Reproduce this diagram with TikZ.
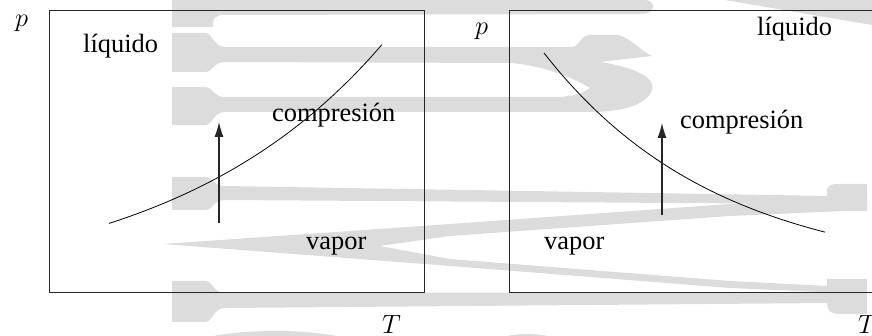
\RequirePackage{fix-cm}
\documentclass[tikz,border=0pt]{standalone}
\usepackage{fontspec}
\setmainfont{Liberation Serif}
\usetikzlibrary{arrows.meta}
\definecolor{wm}{RGB}{220,220,220}
\begin{document}
\begin{tikzpicture}[x=1pt,y=-1pt,
  lbl/.style={anchor=base west, inner sep=0pt, font=\fontsize{26.4}{30}\selectfont},
  frame/.style={draw=black!85, line width=0.9pt},
  curve/.style={draw=black, line width=0.8pt},
  updown/.style={draw=black!85, line width=1.1pt, -{Latex[length=15pt,width=9pt]}},
  wmfill/.style={fill=wm, draw=none}]
\useasboundingbox (0,0) rectangle (872,336);
\clip (0,0) rectangle (872,336);
% ---- watermark ----
\fill[wmfill] (172,0) -- (645,0) .. controls (656,0) and (656,14) .. (642,14) -- (225,15) .. controls (214,15) and (213,18) .. (213,27) -- (172,27) -- cycle;
\fill[wmfill] (172,33) -- (205,33) .. controls (213,33) and (213,47) .. (225,47) -- (572,47) .. controls (580,46) and (580,35) .. (590,35) -- (618,35) .. controls (630,38) and (640,50) .. (652,56) -- (600,62) .. controls (640,68) and (656,80) .. (652,90) .. controls (648,102) and (630,111) .. (595,112) -- (225,112) .. controls (213,112) and (213,125) .. (205,125) -- (172,125) -- (172,87) -- (205,87) .. controls (213,87) and (213,97) .. (225,97) -- (560,97) .. controls (575,96) and (585,92) .. (590,88) .. controls (570,76) and (540,65) .. (510,63) -- (225,62) .. controls (213,62) and (213,72) .. (205,72) -- (172,72) -- cycle;
\fill[wmfill] (172,177) -- (205,177) .. controls (213,177) and (213,186) .. (225,186) -- (830,196) -- (830,204) -- (225,200) .. controls (213,200) and (213,210) .. (205,210) -- (172,210) -- cycle;
\fill[wmfill] (827,211) -- (827,192) .. controls (827,185) and (830,184) .. (840,184) -- (867,184) -- (867,211) -- cycle;
\fill[wmfill] (163,244) -- (450,224) -- (730,204) -- (867,198) -- (867,210) -- (730,216) -- (450,236) -- (380,246) -- (450,259) -- (730,281) -- (867,288) -- (867,294) -- (730,288) -- (450,266) -- cycle;
\fill[wmfill] (172,281) -- (205,281) .. controls (213,281) and (213,293) .. (225,293) -- (830,292) -- (830,303) -- (225,308) .. controls (213,308) and (213,322) .. (205,322) -- (172,322) -- cycle;
\fill[wmfill] (827,279) -- (867,279) -- (867,314) -- (840,314) .. controls (830,314) and (827,310) .. (827,303) -- cycle;
\fill[wmfill] (725,0) -- (872,0) -- (872,25) -- cycle;
\fill[wmfill] (275,345) ellipse [x radius=80, y radius=14];
\fill[wmfill] (527,345) ellipse [x radius=35, y radius=11];
% ---- left diagram ----
\draw[frame] (49,10) rectangle (424,292);
\draw[curve] plot[domain=109:382, samples=80, smooth] (\x, {292-68.6*exp(0.0047*(\x-109))});
\coordinate (a1s) at (219,223);
\coordinate (a1e) at (219,122);
\draw[updown] (a1s) -- (a1e);
\node[lbl] (liq1) at (83,53) {líquido};
\node[lbl] (comp1) at (272,122) {compresión};
\node[lbl] (vap1) at (306,250) {vapor};
\node[lbl] (p1) at (15,27) {$p$};
\node[lbl] (T1) at (382,334) {$T$};
% ---- right diagram ----
\draw[frame] (509,10) rectangle (884,292);
\draw[curve] plot[domain=544:825, samples=80, smooth] (\x, {277-224*exp(-0.00572*(\x-544))});
\coordinate (a2s) at (662,215);
\coordinate (a2e) at (662,123);
\draw[updown] (a2s) -- (a2e);
\node[lbl] (liq2) at (757,36) {líquido};
\node[lbl] (comp2) at (680,129) {compresión};
\node[lbl] (vap2) at (544,250) {vapor};
\node[lbl] (p2) at (475,35) {$p$};
\node[lbl] (T2) at (858,334) {$T$};
\end{tikzpicture}
\end{document}
